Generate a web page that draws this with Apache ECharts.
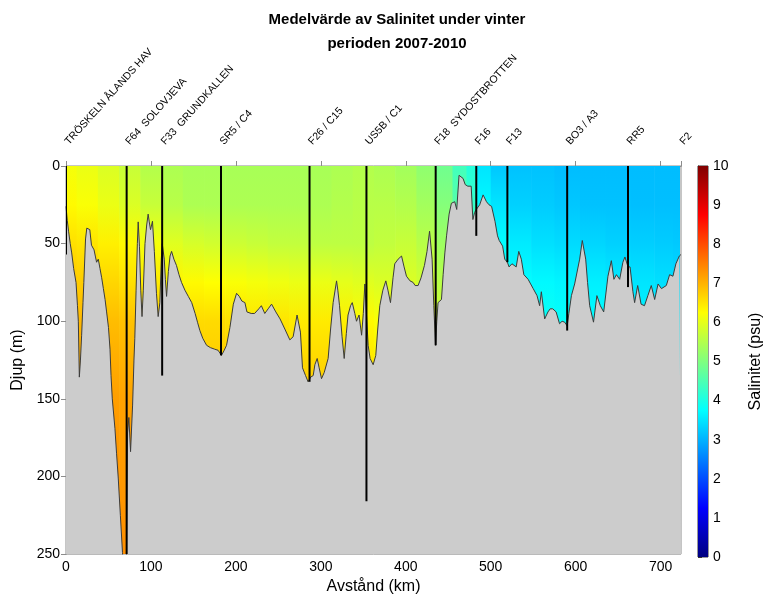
<!DOCTYPE html>
<html>
<head>
<meta charset="utf-8">
<script src="https://cdn.jsdelivr.net/npm/echarts@6/dist/echarts.min.js"></script>
<style>
  html, body { margin: 0; padding: 0; background: #ffffff; }
  #chart { width: 765px; height: 600px; }
</style>
</head>
<body>
<div id="chart"></div>
<script>
// Stations along the section: name, distance (km) and cast depth (m)
const stationNames = ['TRÖSKELN ÅLANDS HAV', 'F64  SOLOVJEVA', 'F33  GRUNDKALLEN', 'SR5 / C4', 'F26 / C15',
  'US5B / C1', 'F18  SYDOSTBROTTEN', 'F16', 'F13', 'BO3 / A3', 'RR5', 'F2'];
const stationKm = [0, 71.4, 113.2, 182.5, 286.7, 353.7, 435.2, 483, 519.6, 590, 661.6, 724];
const stationDepth = [57, 250, 135, 122, 139, 216, 115.5, 45, 62, 106, 78, 0];

// Mean winter salinity (psu) profiles: distance of each profile and its depth levels
const profileKm = [0, 25, 50, 75, 100, 125, 150, 175, 200, 225, 250, 275, 300, 325, 350, 375, 400, 425,
  445, 465, 478, 490, 510, 535, 560, 590, 620, 650, 680, 705, 724];
const profileDepth = [0, 25, 50, 75, 100, 150, 250];
const salinity = [
  [6.15, 6.3, 6.55, 6.8, 6.95, 7.15, 7.35],
  [6.05, 6.2, 6.5, 6.75, 6.95, 7.15, 7.35],
  [5.9, 6.05, 6.4, 6.65, 6.9, 7.2, 7.4],
  [5.7, 5.9, 6.3, 6.55, 6.85, 7.15, 7.35],
  [5.5, 5.7, 6.15, 6.45, 6.75, 7.05, 7.25],
  [5.45, 5.55, 5.95, 6.35, 6.65, 6.95, 7.15],
  [5.4, 5.45, 5.85, 6.3, 6.6, 6.9, 7.05],
  [5.4, 5.45, 5.8, 6.25, 6.6, 6.85, 7.0],
  [5.4, 5.45, 5.75, 6.2, 6.55, 6.85, 7.0],
  [5.4, 5.45, 5.7, 6.15, 6.5, 6.8, 7.0],
  [5.4, 5.45, 5.65, 6.1, 6.5, 6.8, 7.0],
  [5.4, 5.45, 5.65, 6.05, 6.45, 6.8, 7.0],
  [5.4, 5.45, 5.6, 6.05, 6.45, 6.8, 6.95],
  [5.45, 5.5, 5.6, 6.0, 6.4, 6.75, 6.9],
  [5.5, 5.55, 5.6, 5.95, 6.3, 6.65, 6.8],
  [5.45, 5.55, 5.65, 5.9, 6.2, 6.5, 6.7],
  [5.35, 5.5, 5.7, 5.9, 6.15, 6.4, 6.6],
  [5.15, 5.35, 5.55, 5.8, 6.05, 6.3, 6.5],
  [4.85, 5.05, 5.3, 5.55, 5.8, 6.0, 6.2],
  [4.4, 4.6, 4.9, 5.1, 5.3, 5.5, 5.7],
  [4.1, 4.3, 4.5, 4.7, 4.9, 5.1, 5.3],
  [3.5, 3.7, 3.85, 3.95, 4.0, 4.1, 4.2],
  [3.2, 3.5, 3.75, 3.85, 3.9, 4.0, 4.1],
  [3.15, 3.3, 3.55, 3.75, 3.85, 3.95, 4.0],
  [3.15, 3.25, 3.45, 3.7, 3.85, 3.95, 4.0],
  [3.1, 3.2, 3.4, 3.65, 3.8, 3.9, 4.0],
  [3.1, 3.15, 3.35, 3.6, 3.75, 3.85, 3.9],
  [3.1, 3.15, 3.3, 3.55, 3.7, 3.8, 3.9],
  [3.1, 3.12, 3.28, 3.5, 3.65, 3.75, 3.85],
  [3.1, 3.12, 3.25, 3.45, 3.6, 3.7, 3.8],
  [3.1, 3.12, 3.22, 3.4, 3.55, 3.65, 3.75]
];

// Sea floor along the section: [distance km, depth m]
const bottom = [
  [0, 26], [1.5, 35], [3, 42], [5, 50], [6.7, 56], [9, 66], [11.8, 75], [13.5, 90], [14.5, 100], [15.7, 136],
  [17, 125], [18.4, 109], [20, 88], [21, 75], [23, 47], [24.5, 40], [26, 40], [28, 41], [30, 51], [33, 54],
  [34.5, 58], [36, 62], [38, 60], [40, 66], [42, 72], [44, 79], [46, 86], [47.8, 94], [50, 104], [51.8, 118],
  [53, 135], [54.5, 150], [57.6, 169], [59.5, 185], [61.5, 201], [64, 225], [66.5, 249], [68, 258], [71, 258],
  [72.5, 172], [74, 162], [76, 184], [78.4, 154], [80, 125], [81, 111], [82.5, 80], [84, 50], [85, 36],
  [86.5, 52], [88, 80], [89.5, 97], [91, 80], [93, 50], [95, 38], [96.7, 31], [98, 36], [99.5, 41],
  [101.8, 35.6], [104, 55], [106.5, 82], [108.5, 97], [110.5, 88], [112.2, 60], [113.3, 50], [115.7, 60],
  [117, 73], [118.4, 84], [120.5, 68], [122.5, 58], [124.3, 55], [127, 60], [130, 64], [133, 70], [136, 75],
  [140, 80], [144, 84], [148, 88], [152, 95], [155, 101], [157.6, 106], [161, 111], [165.5, 115.5], [170, 117],
  [175, 118], [179, 118.7], [183, 122], [186, 119], [189, 115.5], [193, 104], [197, 89], [200.8, 82], [204, 84],
  [207, 87], [210.6, 88], [213, 94], [218, 95], [222, 95], [227, 92], [230, 90], [234, 95], [238, 92], [242, 89],
  [247, 94], [252, 98.5], [257.6, 105], [263.5, 112], [267.4, 110], [272, 96], [276, 107], [278.4, 130],
  [282, 135], [285, 139], [288, 136], [291, 135], [293, 128], [295.7, 124], [298, 130], [300.8, 137], [304, 133],
  [308.6, 124], [311.5, 105], [314.5, 88], [318.5, 74], [320, 80], [322, 90], [325, 110], [327.5, 124], [330, 108],
  [332, 96], [335, 90], [337, 88], [340, 95], [342, 100], [345, 96], [348, 109], [350, 95], [351.8, 76], [353, 75],
  [355.7, 115.5], [358, 124], [361.6, 128], [364.7, 122], [367, 105], [369.4, 90], [373, 80], [376.5, 74],
  [379, 80], [382, 88], [385, 72], [387, 63], [391, 60], [395, 58], [398, 65], [400.8, 71], [405, 74],
  [408.6, 75], [411, 77], [414.5, 77], [418, 72], [422, 64], [425, 55], [428, 42], [431, 60], [433, 90],
  [435, 115.5], [436.5, 100], [438, 88], [442, 86], [444, 70], [446, 56], [448, 45], [451, 31], [453.7, 24],
  [457.6, 23], [460, 28], [462.7, 6], [465, 7], [467.4, 8], [470, 12], [473, 13], [477, 13], [479, 34.5],
  [481, 30], [483, 28], [485, 29], [487, 25], [491, 18.6], [495, 23], [498, 25], [501, 26], [505, 35.6],
  [508, 45], [510, 48], [514, 51.6], [516.5, 60], [519.6, 62], [521.6, 65], [525, 63], [530, 65], [533, 55],
  [536, 60], [539, 70], [544, 73], [547, 76], [550, 79], [554.5, 83.5], [557.6, 90], [559.6, 81], [563.5, 98.5],
  [567.4, 94], [570, 92], [573, 92], [577, 94], [581, 101.6], [584, 100], [587, 100.6], [590, 103], [592, 95],
  [595, 83.5], [598.8, 76], [601, 76], [604.7, 60], [607.8, 48], [611.8, 60], [614, 75], [616.5, 90],
  [621, 100.6], [625, 83.5], [629, 90], [633, 94], [638, 71], [642, 61], [645, 73], [648, 70], [651.8, 73],
  [655.6, 62], [658, 58.6], [661.6, 65], [664, 65], [667.4, 81], [669.4, 88], [673, 77], [677, 89], [681, 90],
  [685, 83.5], [689, 77], [693, 86], [697, 76], [701, 79], [706.7, 77], [710.6, 70], [714.5, 71], [718, 63],
  [722, 58], [724, 57]
];

const KM_MAX = 724;
const DEPTH_MAX = 250;
const SAL_MIN = 0;
const SAL_MAX = 10;
const FONT = "'Liberation Sans', Arial, sans-serif";

// Jet colour scale for salinity
function jet(v) {
  const t = Math.min(1, Math.max(0, (v - SAL_MIN) / (SAL_MAX - SAL_MIN)));
  const c = x => Math.round(255 * Math.min(1, Math.max(0, x)));
  const r = c(1.5 - Math.abs(4 * t - 3));
  const g = c(1.5 - Math.abs(4 * t - 2));
  const b = c(1.5 - Math.abs(4 * t - 1));
  return 'rgb(' + r + ',' + g + ',' + b + ')';
}

// Each profile is painted as a vertical strip with a depth gradient
function renderProfile(params, api) {
  const i = params.dataIndex;
  const last = profileKm.length - 1;
  const km = profileKm[i];
  const left = i === 0 ? km : (profileKm[i - 1] + km) / 2;
  const right = i === last ? km : (km + profileKm[i + 1]) / 2;
  const p0 = api.coord([left, 0]);
  const p1 = api.coord([right, DEPTH_MAX]);
  const stops = profileDepth.map((d, j) => ({ offset: d / DEPTH_MAX, color: jet(salinity[i][j]) }));
  // strips overlap slightly so no seams show; the last one stops short of the frame
  const w = p1[0] - p0[0] + (i === last ? -1 : 0.6);
  return {
    type: 'rect',
    shape: { x: p0[0], y: p0[1], width: w, height: p1[1] - p0[1] },
    style: { fill: new echarts.graphic.LinearGradient(0, 0, 0, 1, stops) }
  };
}

function renderStationLine(params, api) {
  const km = api.value(0);
  const depth = api.value(1);
  if (!depth) return null;
  const a = api.coord([km, 0]);
  const b = api.coord([km, depth]);
  return {
    type: 'line',
    shape: { x1: a[0], y1: a[1], x2: b[0], y2: b[1] },
    style: { stroke: '#000000', lineWidth: 2 }
  };
}

function renderStationLabel(params, api) {
  const i = params.dataIndex;
  const a = api.coord([api.value(0), 0]);
  return {
    type: 'text',
    x: a[0] + 5,
    y: a[1] - 19,
    rotation: 48 * Math.PI / 180,
    style: {
      text: stationNames[i],
      x: 0, y: 0,
      align: 'left',
      verticalAlign: 'bottom',
      fill: '#000000',
      font: '10.5px ' + FONT
    }
  };
}

function renderColorbar(params, api) {
  const p0 = api.coord([0, SAL_MAX]);
  const p1 = api.coord([1, SAL_MIN]);
  const marks = [10, 8.75, 6.25, 3.75, 1.25, 0];
  const stops = marks.map(v => ({ offset: (SAL_MAX - v) / (SAL_MAX - SAL_MIN), color: jet(v) }));
  return {
    type: 'rect',
    shape: { x: p0[0], y: p0[1], width: p1[0] - p0[0], height: p1[1] - p0[1] },
    style: { fill: new echarts.graphic.LinearGradient(0, 0, 0, 1, stops) }
  };
}

const axisGrey = '#8c8c8c';
const tickText = { color: '#000000', fontSize: 14, fontFamily: FONT };

const chart = echarts.init(document.getElementById('chart'), null, { renderer: 'canvas' });
chart.setOption({
  animation: false,
  backgroundColor: '#ffffff',
  title: {
    text: 'Medelvärde av Salinitet under vinter\nperioden 2007-2010',
    left: 392,
    top: 3,
    textAlign: 'center',
    textStyle: { fontSize: 15, fontWeight: 'bold', color: '#000000', fontFamily: FONT, lineHeight: 24 }
  },
  grid: [
    { left: 66, top: 166, width: 615, height: 391, show: true, borderColor: axisGrey, borderWidth: 1, backgroundColor: 'transparent' },
    { left: 698, top: 166, width: 15, height: 391, show: true, borderColor: '#333333', borderWidth: 1, backgroundColor: 'transparent' }
  ],
  xAxis: [
    {
      gridIndex: 0, type: 'value', min: 0, max: KM_MAX, interval: 100, position: 'bottom',
      name: 'Avstånd (km)', nameLocation: 'middle', nameGap: 24,
      nameTextStyle: { color: '#000000', fontSize: 16, fontFamily: FONT },
      axisLine: { show: true, lineStyle: { color: axisGrey } },
      axisTick: { show: true, length: 5, lineStyle: { color: axisGrey } },
      axisLabel: Object.assign({ margin: 6, showMaxLabel: false }, tickText),
      splitLine: { show: false }
    },
    {
      gridIndex: 0, type: 'value', min: 0, max: KM_MAX, interval: 100, position: 'top',
      axisLine: { show: true, lineStyle: { color: axisGrey } },
      axisTick: { show: true, length: 5, lineStyle: { color: axisGrey } },
      axisLabel: { show: false },
      splitLine: { show: false }
    },
    {
      gridIndex: 1, type: 'value', min: 0, max: 1, show: false
    }
  ],
  yAxis: [
    {
      gridIndex: 0, type: 'value', min: 0, max: DEPTH_MAX, interval: 50, inverse: true,
      name: 'Djup (m)', nameLocation: 'middle', nameGap: 37,
      nameTextStyle: { color: '#000000', fontSize: 16, fontFamily: FONT },
      axisLine: { show: true, lineStyle: { color: axisGrey } },
      axisTick: { show: true, length: 5, lineStyle: { color: axisGrey } },
      axisLabel: Object.assign({ margin: 6 }, tickText),
      splitLine: { show: false }
    },
    {
      gridIndex: 1, type: 'value', min: SAL_MIN, max: SAL_MAX, interval: 1, position: 'right',
      name: 'Salinitet (psu)', nameLocation: 'middle', nameGap: 40, nameRotate: 90,
      nameTextStyle: { color: '#000000', fontSize: 16, fontFamily: FONT },
      axisLine: { show: true, lineStyle: { color: '#333333' } },
      axisTick: { show: true, length: 4, lineStyle: { color: '#333333' } },
      axisLabel: Object.assign({ margin: 5 }, tickText),
      splitLine: { show: false }
    }
  ],
  series: [
    {
      name: 'salinity', type: 'custom', xAxisIndex: 0, yAxisIndex: 0,
      renderItem: renderProfile,
      data: profileKm.map(k => [k, 0]),
      encode: { x: 0, y: 1 },
      clip: true, z: 1, silent: true
    },
    {
      name: 'bottom', type: 'line', xAxisIndex: 0, yAxisIndex: 0,
      data: bottom,
      symbol: 'none', smooth: false,
      lineStyle: { color: '#3c3c3c', width: 1 },
      areaStyle: { color: '#cccccc', opacity: 1, origin: 'end' },
      clip: true, z: 2, silent: true
    },
    {
      name: 'casts', type: 'custom', xAxisIndex: 0, yAxisIndex: 0,
      renderItem: renderStationLine,
      data: stationKm.map((k, i) => [k, stationDepth[i]]),
      encode: { x: 0, y: 1 },
      clip: true, z: 3, silent: true
    },
    {
      name: 'stations', type: 'custom', xAxisIndex: 0, yAxisIndex: 0,
      renderItem: renderStationLabel,
      data: stationKm.map(k => [k, 0]),
      encode: { x: 0, y: 1 },
      clip: false, z: 4, silent: true
    },
    {
      name: 'colorbar', type: 'custom', xAxisIndex: 2, yAxisIndex: 1,
      renderItem: renderColorbar,
      data: [[0, 0]],
      encode: { x: 0, y: 1 },
      clip: false, z: 1, silent: true
    }
  ]
});
</script>
</body>
</html>
